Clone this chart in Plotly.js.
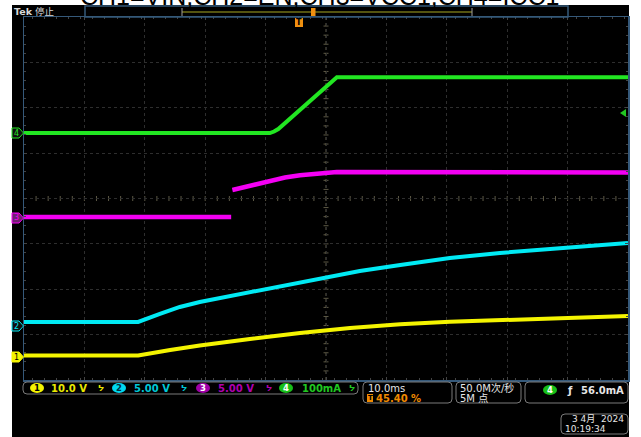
<!DOCTYPE html>
<html>
<head>
<meta charset="utf-8">
<script src="https://cdn.plot.ly/plotly-3.0.1.min.js"></script>
<style>html,body{margin:0;padding:0;background:#fff;}#chart{width:641px;height:437px;}</style>
</head>
<body>
<div id="chart"></div>
<script>
// ---- Data (time in ms relative to trigger; values in channel units) ----
const ch1_t = [-45.4, -26.5, -21.2, -16.3, -8.0, 0.3, 8.6, 16.9, 25.1, 33.4, 41.7, 50.0, 54.6];
const ch1_v = [0, 0, 1.2, 2.2, 3.6, 4.95, 6.05, 6.85, 7.4, 7.8, 8.25, 8.6, 8.7];        // V
const ch2_t = [-45.4, -26.5, -22.9, -19.6, -16.3, -11.3, -6.3, 0.3, 5.3, 10.2, 16.9, 25.1, 33.4, 41.7, 50.0, 54.6];
const ch2_v = [0, 0, 0.88, 1.65, 2.2, 2.86, 3.52, 4.3, 4.96, 5.62, 6.28, 7.05, 7.6, 8.04, 8.43, 8.7]; // V
const ch3_t = [-45.4, -11.1, null, -10.9, -9.6, -7.15, -4.7, -2.2, 0.3, 3.6, 6.4, 54.6];
const ch3_v = [0, 0, null, 2.97, 3.19, 3.63, 4.02, 4.35, 4.6, 4.81, 4.96, 4.9];        // V
const ch4_t = [-45.4, -4.7, -4.0, -3.3, 6.4, 54.6];
const ch4_v = [0, 0, 3.3, 8.8, 123, 123];                                              // mA

const titleText = "CH1=VIN,CH2=EN,CH3=VCC1,CH4=ICC1";
const chScales = ["10.0 V", "5.00 V", "5.00 V", "100mA"];
const timebase = "10.0ms";
const trigPos = "45.40 %";
const sampleRate = "50.0M次/秒";
const recLen = "5M 点";
const trigLevel = "56.0mA";
const dateLine = "3 4月  2024";
const timeLine = "10:19:34";

// scope settings (divisions)
const SCALE = [10, 5, 5, 100];
const OFFSET = [-3.458, -2.720, -0.407, 1.443];
const COLORS = ["#f4f400", "#00eaf4", "#f400f4", "#22e622"];

function toDiv(vals, i) { return vals.map(v => v === null ? null : OFFSET[i] + v / SCALE[i]); }

// ---- pixel helpers for decorations ----
const L = 24, R = 628, T = 17, B = 380;
function px(x) { return (x - L) / (R - L); }
function py(y) { return (B - y) / (B - T); }
function P(x, y) { return px(x) + ',' + py(y); }
function rr(x0, y0, x1, y1, r) {
  return `M${P(x0 + r, y0)} L${P(x1 - r, y0)} Q${P(x1, y0)} ${P(x1, y0 + r)} L${P(x1, y1 - r)} Q${P(x1, y1)} ${P(x1 - r, y1)} L${P(x0 + r, y1)} Q${P(x0, y1)} ${P(x0, y1 - r)} L${P(x0, y0 + r)} Q${P(x0, y0)} ${P(x0 + r, y0)} Z`;
}
const FONT = "DejaVu Sans, Liberation Sans, Noto Sans CJK SC, sans-serif";
const annotations = [];
function txt(x, y, text, color, size, xanchor, extra) {
  annotations.push(Object.assign({
    xref: 'paper', yref: 'paper', x: px(x), y: py(y), text: text, showarrow: false,
    xanchor: xanchor || 'center', yanchor: 'middle',
    font: { family: FONT, size: size || 10, color: color }, borderpad: 0
  }, extra || {}));
}

const shapes = [];
// black screen
shapes.push({ type: 'rect', xref: 'paper', yref: 'paper', x0: px(12), x1: px(629), y0: py(437), y1: py(5),
  fillcolor: '#000', line: { width: 0 }, layer: 'below' });
// center dotted crosshair
const tc = 4.6;
shapes.push({ type: 'line', xref: 'x', yref: 'paper', x0: tc, x1: tc, y0: 0, y1: 1, line: { color: '#5e5a46', width: 1, dash: 'dot' }, layer: 'below' });
shapes.push({ type: 'line', xref: 'paper', yref: 'y', x0: 0, x1: 1, y0: 0, y1: 0, line: { color: '#5e5a46', width: 1, dash: 'dot' }, layer: 'below' });
for (let k = -45.4 + 2; k < 54.6; k += 2) {
  shapes.push({ type: 'line', xref: 'x', yref: 'paper', x0: k, x1: k, y0: py(201), y1: py(196), line: { color: '#5e5a46', width: 1 }, layer: 'below' });
}
for (let k = -3.8; k < 4; k += 0.2) {
  shapes.push({ type: 'line', xref: 'paper', yref: 'y', x0: px(323.5), x1: px(328.5), y0: k, y1: k, line: { color: '#5e5a46', width: 1 }, layer: 'below' });
}
// record bar at top
shapes.push({ type: 'rect', xref: 'paper', yref: 'paper', x0: px(85), x1: px(568), y0: py(17), y1: py(6), line: { color: '#35597a', width: 1.5 } });
shapes.push({ type: 'line', xref: 'paper', yref: 'paper', x0: px(182), x1: px(472), y0: py(12), y1: py(12), line: { color: '#a8a820', width: 1 } });
shapes.push({ type: 'line', xref: 'paper', yref: 'paper', x0: px(182), x1: px(182), y0: py(8), y1: py(16), line: { color: '#a0a0a0', width: 1 } });
shapes.push({ type: 'line', xref: 'paper', yref: 'paper', x0: px(472), x1: px(472), y0: py(8), y1: py(16), line: { color: '#a0a0a0', width: 1 } });
shapes.push({ type: 'rect', xref: 'paper', yref: 'paper', x0: px(311), x1: px(315.5), y0: py(16), y1: py(8), fillcolor: '#f09010', line: { width: 0 } });
// trigger position marker
shapes.push({ type: 'path', xref: 'paper', yref: 'paper', path: `M${P(295, 18)} L${P(303, 18)} L${P(303, 27)} L${P(295, 27)} Z`, fillcolor: '#f09010', line: { width: 0 } });
txt(299, 23, '<b>T</b>', '#000', 8);
// trigger level arrow (right)
shapes.push({ type: 'path', xref: 'paper', yref: 'paper', path: `M${P(626, 109)} L${P(620, 113)} L${P(626, 117)} Z`, fillcolor: '#22c622', line: { width: 0 } });

// channel ground markers
const gnd = [[357, 0, true], [326, 1, false], [218, 2, false], [133, 3, false]];
gnd.forEach(g => {
  const y = g[0], c = COLORS[g[1]];
  shapes.push({ type: 'path', xref: 'paper', yref: 'paper',
    path: `M${P(12, y - 5)} L${P(19, y - 5)} L${P(23.5, y)} L${P(19, y + 5)} L${P(12, y + 5)} Z`,
    fillcolor: g[2] ? c : (g[1] === 2 ? '#702070' : '#101010'), line: { color: c, width: 1 } });
  txt(16.5, y, String(g[1] + 1), g[2] ? '#000' : c, 8);
});

// readout boxes
const boxC = '#7a7a7a';
[[23, 382, 358, 394], [363, 382, 452, 403], [456, 382, 521, 403], [525, 382, 628, 403], [561, 414, 628, 434]].forEach(b => {
  shapes.push({ type: 'path', xref: 'paper', yref: 'paper', path: rr(b[0], b[1], b[2], b[3], 4), line: { color: boxC, width: 1 } });
});
function oval(cx, cy, c, label, tcol) {
  shapes.push({ type: 'circle', xref: 'paper', yref: 'paper', x0: px(cx - 7), x1: px(cx + 7), y0: py(cy + 5), y1: py(cy - 5), fillcolor: c, line: { width: 0 } });
  txt(cx, cy, '<b>' + label + '</b>', tcol, 8.5);
}
const chTextCol = ['#e8e800', '#00c8d8', '#b000b0', '#20c820'];
const ovalCol = ['#f4f400', '#00d8f0', '#a000a8', '#18c018'];
const cxs = [37, 119, 203, 286], tx = [69, 152, 236, 321], bw = [101, 184, 269, 352];
for (let i = 0; i < 4; i++) {
  oval(cxs[i], 388, ovalCol[i], String(i + 1), i === 0 ? '#000' : (i === 1 ? '#003040' : '#fff'));
  txt(tx[i], 388, '<b>' + chScales[i] + '</b>', chTextCol[i], 10);
  txt(bw[i], 388, '<b>ᔭ</b>', chTextCol[i], 8);
}
txt(367, 388, timebase, '#e6e6e6', 10, 'left');
shapes.push({ type: 'rect', xref: 'paper', yref: 'paper', x0: px(367), x1: px(373), y0: py(402), y1: py(394), fillcolor: '#f08a00', line: { width: 0 } });
txt(370, 398, '<b>T</b>', '#000', 7);
txt(375, 398, '<b>' + trigPos + '</b>', '#f08a00', 10, 'left');
txt(459, 388, sampleRate, '#e6e6e6', 10, 'left');
txt(459, 398, recLen, '#e6e6e6', 10, 'left');
oval(550, 390, '#18c018', '4', '#fff');
txt(570, 390, '<b>ƒ</b>', '#e6e6e6', 10);
txt(625, 390, '<b>' + trigLevel + '</b>', '#e6e6e6', 10, 'right');
txt(625, 419, dateLine, '#e6e6e6', 9, 'right');
txt(564, 429, timeLine, '#e6e6e6', 9, 'left');
// top-left status
txt(13, 11, '<b>Tek</b> 停止', '#d8d8d8', 9.5, 'left');
// cut-off title
annotations.push({ xref: 'paper', yref: 'paper', x: px(319), y: py(11), xanchor: 'center', yanchor: 'bottom',
  text: titleText, showarrow: false, font: { family: 'Liberation Sans, Arial, sans-serif', size: 25, color: '#000' }, borderpad: 0 });

const traces = [
  { x: ch4_t, y: toDiv(ch4_v, 3), name: 'CH4', line: { color: COLORS[3], width: 4 } },
  { x: ch3_t, y: toDiv(ch3_v, 2), name: 'CH3', line: { color: COLORS[2], width: 4.5 }, connectgaps: false },
  { x: ch2_t, y: toDiv(ch2_v, 1), name: 'CH2', line: { color: COLORS[1], width: 4 } },
  { x: ch1_t, y: toDiv(ch1_v, 0), name: 'CH1', line: { color: COLORS[0], width: 4 } }
].map(t => Object.assign({ type: 'scatter', mode: 'lines', hoverinfo: 'skip' }, t));

const axisCommon = {
  showticklabels: false, showline: true, mirror: 'ticks', linecolor: '#35597a', linewidth: 1.5,
  ticks: 'inside', ticklen: 3, tickcolor: '#444', zeroline: false,
  showgrid: true, gridcolor: '#2e2e2e', griddash: 'dot', gridwidth: 1, fixedrange: true
};
const layout = {
  width: 641, height: 437,
  margin: { l: L, r: 641 - R, t: T, b: 437 - B, pad: 0 },
  paper_bgcolor: '#ffffff', plot_bgcolor: '#000000',
  showlegend: false,
  xaxis: Object.assign({}, axisCommon, { range: [-45.4, 54.6], tick0: -45.4, dtick: 10,
    minor: { dtick: 2, ticks: 'inside', ticklen: 2, tickcolor: '#444', showgrid: false } }),
  yaxis: Object.assign({}, axisCommon, { range: [-4, 4], tick0: 0, dtick: 1,
    minor: { dtick: 0.2, ticks: 'inside', ticklen: 2, tickcolor: '#444', showgrid: false } }),
  shapes: shapes, annotations: annotations
};
Plotly.newPlot('chart', traces, layout, { staticPlot: true, displayModeBar: false });
</script>
</body>
</html>
